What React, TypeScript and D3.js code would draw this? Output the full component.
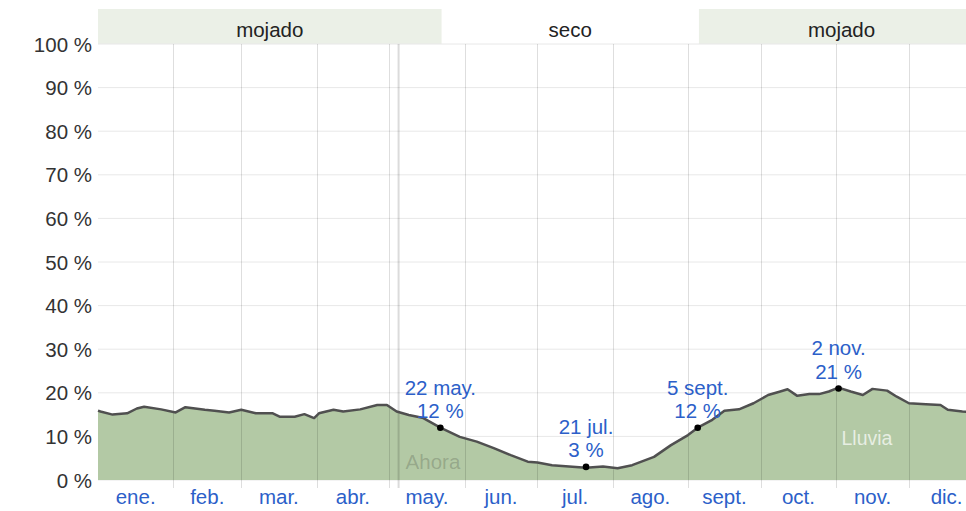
import React from "react";
import * as d3 from "d3";

// Daily chance of rain (day of year index, percent)
const rainDays = [0, 1, 6, 12, 16, 19, 26, 32, 36, 40, 44, 48, 54, 59, 65, 72, 75, 81, 85, 89, 91, 97, 101, 108, 115, 119, 123, 128, 134, 141, 149, 156, 163, 170, 177, 181, 187, 194, 201, 208, 214, 220, 229, 236, 243, 247, 253, 258, 264, 270, 276, 281, 284, 288, 293, 297, 301, 305, 310, 315, 319, 325, 329, 334, 341, 347, 350, 356, 364];
const rainPct = [15.9, 15.7, 15.0, 15.3, 16.4, 16.8, 16.2, 15.5, 16.7, 16.4, 16.1, 15.9, 15.5, 16.1, 15.3, 15.3, 14.5, 14.5, 15.1, 14.2, 15.3, 16.1, 15.7, 16.2, 17.2, 17.2, 15.7, 14.9, 14.2, 12.0, 9.9, 8.8, 7.3, 5.7, 4.2, 4.0, 3.4, 3.1, 2.8, 3.1, 2.7, 3.4, 5.3, 8.0, 10.3, 12.0, 13.8, 15.9, 16.2, 17.6, 19.5, 20.3, 20.8, 19.3, 19.7, 19.7, 20.3, 21.2, 20.3, 19.5, 20.9, 20.5, 19.1, 17.6, 17.4, 17.2, 16.1, 15.7, 15.6];

const monthLabels = ["ene.", "feb.", "mar.", "abr.", "may.", "jun.", "jul.", "ago.", "sept.", "oct.", "nov.", "dic."];
const monthStarts = [0, 31, 59, 90, 120, 151, 181, 212, 243, 273, 304, 334, 365];

const yTicks = [0, 10, 20, 30, 40, 50, 60, 70, 80, 90, 100];

const seasonLabels = ["mojado", "seco", "mojado"];
const seasonStarts = [0, 141.5, 247.5];
const seasonEnds = [141.5, 247.5, 365];
const seasonWet = [true, false, true];

const annotDays = [141, 201, 247, 305];
const annotDates = ["22 may.", "21 jul.", "5 sept.", "2 nov."];
const annotPct = [12, 3, 12, 21];
const annotText = ["12 %", "3 %", "12 %", "21 %"];

const nowDay = 123.8;

const W = 966;
const H = 511;
const FONT = "'Liberation Sans', Arial, Helvetica, sans-serif";

export default function App() {
  const x = d3.scaleLinear().domain([0, 365]).range([98, 98 + 365 * 2.428]);
  const y = d3.scaleLinear().domain([0, 100]).range([480, 44]);
  const pts: [number, number][] = rainDays.map((d, i) => [d, rainPct[i]]);
  const area = d3
    .area<[number, number]>()
    .x((d) => x(d[0]))
    .y0(y(0))
    .y1((d) => y(d[1]));
  const line = d3
    .line<[number, number]>()
    .x((d) => x(d[0]))
    .y((d) => y(d[1]));
  const x0 = x(0);
  const x1 = x(365);
  const blue = "#2c5fc9";

  return (
    <svg
      width={W}
      height={H}
      style={{ position: "absolute", left: 0, top: 0, background: "#fff" }}
      fontFamily={FONT}
    >
      <defs>
        <clipPath id="clip">
          <rect x={0} y={0} width={W} height={H} />
        </clipPath>
      </defs>
      <g clipPath="url(#clip)">
        {seasonLabels.map((s, i) => (
          <g key={"s" + i}>
            {seasonWet[i] && (
              <rect
                x={x(seasonStarts[i])}
                y={9}
                width={x(seasonEnds[i]) - x(seasonStarts[i])}
                height={35}
                fill="#ebf0e7"
              />
            )}
            <text
              x={(x(seasonStarts[i]) + x(seasonEnds[i])) / 2}
              y={36.5}
              textAnchor="middle"
              fontSize={20.5}
              fill="#222"
            >
              {s}
            </text>
          </g>
        ))}
        {yTicks.map((t) => (
          <line key={"h" + t} x1={x0} x2={x1} y1={y(t)} y2={y(t)} stroke="#e8e8e8" strokeWidth={1} />
        ))}
        <path d={area(pts) || ""} fill="#b3c9a5" />
        {monthStarts.slice(1, 12).map((d) => (
          <line
            key={"v" + d}
            x1={Math.round(x(d)) + 0.5}
            x2={Math.round(x(d)) + 0.5}
            y1={44}
            y2={488}
            stroke="rgba(0,0,0,0.13)"
            strokeWidth={1}
          />
        ))}
        <line x1={x(nowDay)} x2={x(nowDay)} y1={44} y2={488} stroke="rgba(0,0,0,0.14)" strokeWidth={2} />
        <text x={x(nowDay) + 7} y={468.5} fontSize={20.5} fill="rgba(0,0,0,0.18)">
          Ahora
        </text>
        <path d={line(pts) || ""} fill="none" stroke="#505050" strokeWidth={2.5} strokeLinejoin="round" />
        <text x={867} y={445} textAnchor="middle" fontSize={19.5} fill="rgba(255,255,255,0.7)">
          Lluvia
        </text>
        {annotDays.map((d, i) => (
          <g key={"a" + i}>
            <circle cx={x(d)} cy={y(annotPct[i])} r={3.3} fill="#000" />
            <text x={x(d)} y={y(annotPct[i]) - 33} textAnchor="middle" fontSize={20.5} fill={blue}>
              {annotDates[i]}
            </text>
            <text x={x(d)} y={y(annotPct[i]) - 9.5} textAnchor="middle" fontSize={20.5} fill={blue}>
              {annotText[i]}
            </text>
          </g>
        ))}
        {yTicks.map((t) => (
          <text key={"yl" + t} x={92} y={y(t) + 7.5} textAnchor="end" fontSize={20.5} fill="#333">
            {t} %
          </text>
        ))}
        {monthLabels.map((m, i) => (
          <text
            key={"m" + i}
            x={x((monthStarts[i] + monthStarts[i + 1]) / 2)}
            y={504}
            textAnchor="middle"
            fontSize={20.5}
            fill={blue}
          >
            {m}
          </text>
        ))}
      </g>
    </svg>
  );
}
